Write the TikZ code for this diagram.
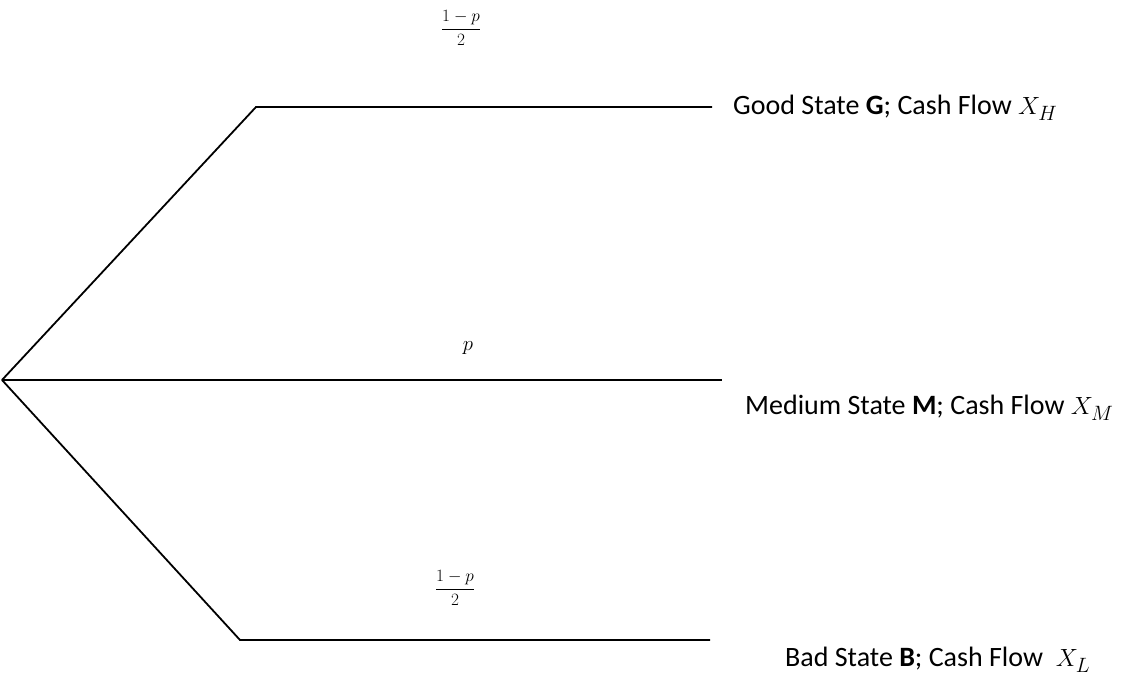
\documentclass[tikz,border=0pt]{standalone}
\usepackage{fontspec}
\setmainfont{Carlito}
\begin{document}
\begin{tikzpicture}[x=1pt,y=-1pt,
  branch/.style={line width=1.8pt, black},
  lab/.style={anchor=west, inner sep=0pt, font=\fontsize{28}{33}\selectfont},
  prob/.style={anchor=base, inner sep=0pt, font=\fontsize{18}{22}\selectfont}]
\useasboundingbox (0,0) rectangle (1145,684);
\coordinate (root) at (2,380);
\coordinate (gc) at (256,107);
\coordinate (ge) at (712,107);
\coordinate (me) at (722,380);
\coordinate (bc) at (240,640);
\coordinate (be) at (710,640);
\draw[branch] (root) -- (gc) -- (ge);
\draw[branch] (root) -- (me);
\draw[branch] (root) -- (bc) -- (be);
\node[lab] (g) at (733,108) {Good State \textbf{G}; Cash Flow $X_H$};
\node[lab] (m) at (745,408) {Medium State \textbf{M}; Cash Flow $X_M$};
\node[lab] (b) at (785,660) {Bad State \textbf{B}; Cash Flow \ $X_L$};
\node[prob] (pg) at (461,33.5) {$\displaystyle\frac{1-p}{2}$};
\node[prob, font=\fontsize{22}{26}\selectfont] (pm) at (468,350) {$p$};
\node[prob] (pb) at (455,593.5) {$\displaystyle\frac{1-p}{2}$};
\end{tikzpicture}
\end{document}
